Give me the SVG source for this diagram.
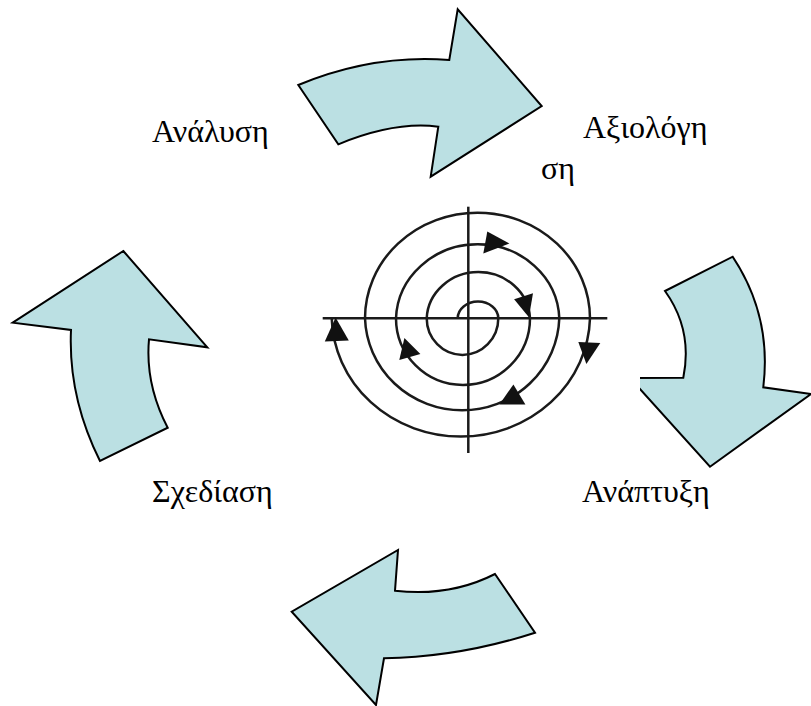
<svg xmlns="http://www.w3.org/2000/svg" width="811" height="706" viewBox="0 0 811 706">
<style>
.arrow{fill:#bbe0e3;stroke:#000;stroke-width:2;stroke-linejoin:miter}
.lbl{font-family:"Liberation Serif","DejaVu Serif",serif;font-size:32px;fill:#000}
.ring{fill:none;stroke:#1a1a1a;stroke-width:2.5}
.axis{stroke:#1a1a1a;stroke-width:2.5}
.head{fill:#111}
</style>
<rect width="811" height="706" fill="#fff"/>
<g id="arrow-right">
<path class="arrow" d="M665,291 L732.7,256.7 Q772,316 763.3,387.3 L811,394 L710,466.7 L630,378 L683.3,377.7 Q693,330 665,291 Z"/>
</g>
<g id="spiral">
<rect x="310" y="200" width="330" height="258" fill="#fff"/>
<line class="axis" x1="468.3" y1="206.7" x2="468.3" y2="453"/>
<line class="axis" x1="322.7" y1="318.3" x2="607.3" y2="318.3"/>
<path class="ring" d="M457.7,318.3 A20.3,16.7 0 0 1 498.3,318.3 A35.8,36.7 0 0 1 426.7,318.3 A51.7,48.3 0 0 1 530,318.3 A67,66.7 0 0 1 396,318.3 A81.7,76.7 0 0 1 559.3,318.3 A97.2,95 0 0 1 365,318.3 A112.5,105.7 0 0 1 590,318.3 A129.2,121.7 0 0 1 331.7,318.3"/>
<polygon class="head" points="487.3,231.4 509.4,243.6 483.3,253.5"/>
<polygon class="head" points="514.1,299.3 533,293.3 528.9,317.3"/>
<polygon class="head" points="578.3,342 600.3,342.9 586.4,364.1"/>
<polygon class="head" points="513.4,384.5 525.4,404.4 499.4,404.4"/>
<polygon class="head" points="404.4,337.9 420.4,353.9 399.3,359.9"/>
<polygon class="head" points="335.6,317.4 348.8,340.6 324.8,341.4"/>
</g>
<g id="arrow-top">
<path class="arrow" d="M298.3,85 L338.3,144.3 Q395,121 438.3,126.7 L430.7,176.7 L541.7,106 L457.7,9.3 L449.3,60 Q373,54 298.3,85 Z"/>
</g>
<g id="arrow-bottom">
<path class="arrow" d="M495,574 L535,632.7 Q460,657 384,658.3 L376,705 L291.7,611.7 L398,550 L395,590.7 Q450,597 495,574 Z"/>
</g>
<g id="arrow-left">
<path class="arrow" d="M123.3,251 L207.3,347.3 L149,339.3 Q145,384 167.7,427.7 L100,461 Q68,397 71,330 L12.7,322.7 Z"/>
</g>
<g id="label-analysis"><text class="lbl" x="152" y="142">Ανάλυση</text></g>
<g id="label-evaluation"><text class="lbl" x="583" y="138">Αξιολόγη</text><text class="lbl" x="541" y="179">ση</text></g>
<g id="label-design"><text class="lbl" x="152" y="502">Σχεδίαση</text></g>
<g id="label-development"><text class="lbl" x="582" y="502">Ανάπτυξη</text></g>
</svg>
